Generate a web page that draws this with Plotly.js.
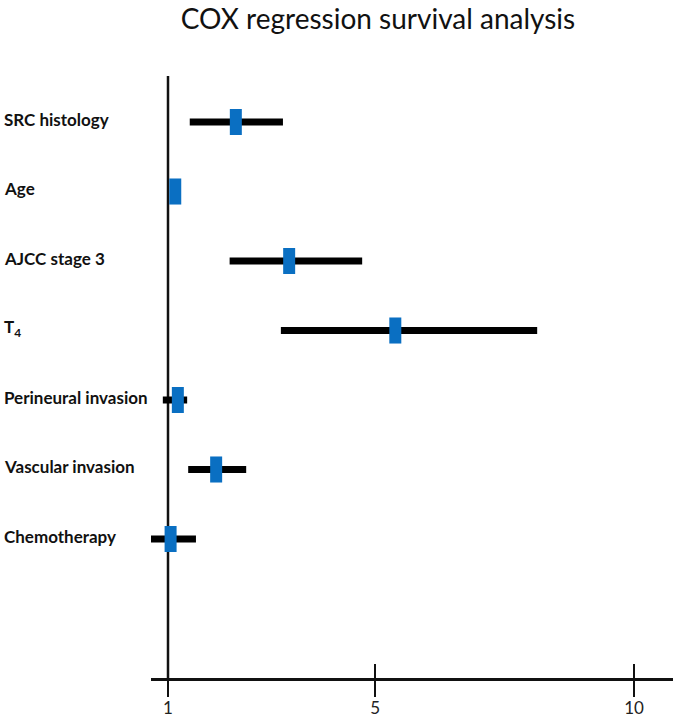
<!DOCTYPE html>
<html>
<head>
<meta charset="utf-8">
<script src="https://cdn.plot.ly/plotly-3.0.1.min.js"></script>
<style>html,body{margin:0;padding:0;background:#fff;}#chart{width:675px;height:723px;}</style>
</head>
<body>
<div id="chart"></div>
<script>
// Variables (top to bottom)
const variables = ["SRC histology", "Age", "AJCC stage 3", "T<sub>4</sub>", "Perineural invasion", "Vascular invasion", "Chemotherapy"];
// Hazard ratios and 95% CI bounds
const hazardRatio = [2.31, 1.14, 3.34, 5.39, 1.19, 1.93, 1.05];
const ciLower     = [1.42, 1.06, 2.19, 3.18, 0.90, 1.39, 0.67];
const ciUpper     = [3.22, 1.21, 4.75, 8.13, 1.37, 2.51, 1.54];
// X axis ticks
const tickValues = [1, 5, 10];
const tickLabels = ["1", "5", "10"];
const nullValue = 1;

const errPlus = hazardRatio.map((v, i) => ciUpper[i] - v);
const errMinus = hazardRatio.map((v, i) => v - ciLower[i]);

const ciTrace = {
  type: "scatter", mode: "markers",
  x: hazardRatio, y: variables,
  marker: {size: 1, color: "rgba(0,0,0,0)"},
  error_x: {type: "data", symmetric: false, array: errPlus, arrayminus: errMinus,
            color: "#000000", thickness: 7, width: 0},
  xaxis: "x", yaxis: "y", hoverinfo: "skip", showlegend: false, cliponaxis: false
};
const hrTrace = {
  type: "scatter", mode: "markers",
  x: hazardRatio, y: variables,
  marker: {symbol: "line-ns", size: 18.6, color: "#0a6fc2", line: {color: "#0a6fc2", width: 12}},
  xaxis: "x2", yaxis: "y", showlegend: false, cliponaxis: false
};

const xRange = [0.6717, 10.753];
const layout = {
  width: 675, height: 723,
  margin: {l: 151, r: 2, t: 76, b: 45, pad: 0},
  paper_bgcolor: "#ffffff", plot_bgcolor: "#ffffff",
  showlegend: false,
  title: {text: "COX regression survival analysis", x: 0.56, xanchor: "center", y: 0.974, yanchor: "middle", yref: "container",
          font: {family: "Lato, 'Open Sans', sans-serif", size: 28, color: "#111111"}},
  xaxis: {range: xRange, type: "linear", tickvals: tickValues, ticktext: tickLabels,
          ticks: "outside", ticklen: 16, tickwidth: 2.5, tickcolor: "#111111",
          ticklabelstandoff: -3,
          showline: true, linecolor: "#111111", linewidth: 2.5,
          showgrid: false, zeroline: false,
          tickfont: {family: "Lato, sans-serif", size: 17, color: "#222222"}},
  xaxis2: {range: xRange, type: "linear", overlaying: "x", anchor: "y", side: "bottom",
           tickvals: tickValues, ticktext: tickLabels, showticklabels: false,
           ticks: "inside", ticklen: 14, tickwidth: 2.5, tickcolor: "#111111",
           showline: false, showgrid: false, zeroline: false},
  yaxis: {type: "category", categoryarray: variables, categoryorder: "array",
          range: [8.0, -0.662], showticklabels: false, ticks: "",
          showline: false, showgrid: false, zeroline: false},
  shapes: [{type: "line", xref: "x", yref: "paper", x0: nullValue, x1: nullValue, y0: 0, y1: 1,
            line: {color: "#111111", width: 2.5}, layer: "below"}],
  annotations: variables.map(v => ({
    text: "<b>" + v + "</b>", xref: "paper", yref: "y", x: -0.2854, y: v,
    xanchor: "left", yanchor: "middle", yshift: 3, showarrow: false,
    font: {family: "Lato, sans-serif", size: 17, color: "#111111"}
  }))
};

Plotly.newPlot("chart", [ciTrace, hrTrace], layout, {displayModeBar: false, staticPlot: true});
</script>
</body>
</html>
